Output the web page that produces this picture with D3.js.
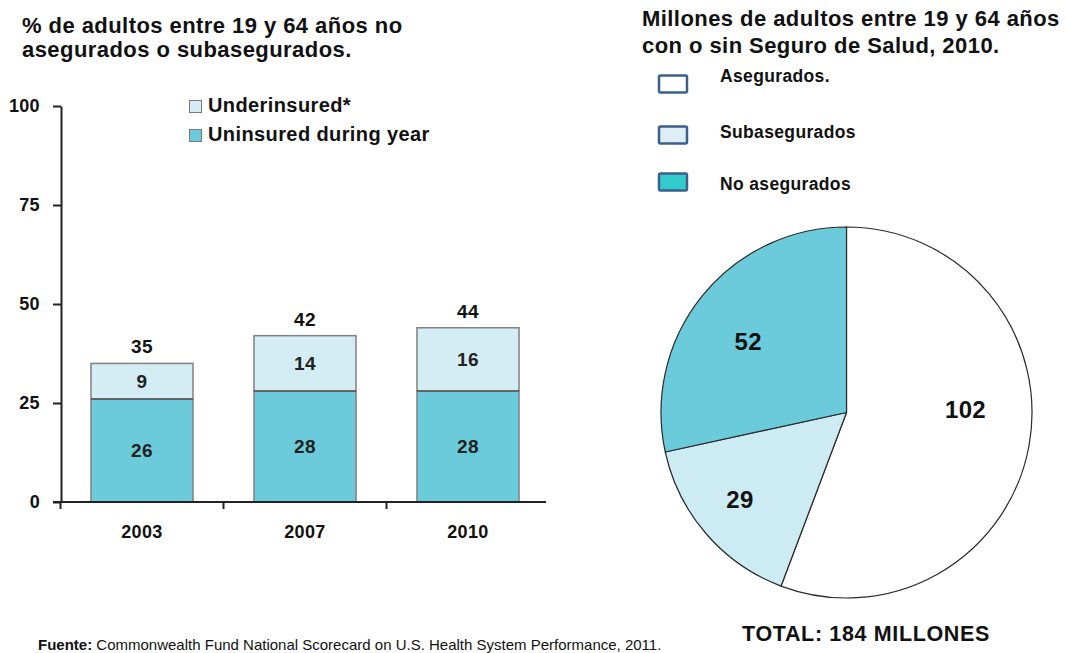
<!DOCTYPE html>
<html>
<head>
<meta charset="utf-8">
<script src="https://cdn.jsdelivr.net/npm/d3@7"></script>
<style>
  body { margin: 0; background: #ffffff; }
  svg text {
    font-family: "Liberation Sans", Arial, Helvetica, sans-serif;
    font-weight: bold;
    fill: #111111;
    letter-spacing: 0.02em;
  }
</style>
</head>
<body>
<svg id="chart" width="1066" height="653"></svg>
<script>
// ---- data: stacked bars (% of adults 19-64) ----
const years = ["2003", "2007", "2010"];
const uninsured = [26, 28, 28];
const underinsured = [9, 14, 16];
const totals = [35, 42, 44];
const yTicks = [0, 25, 50, 75, 100];
const barSeriesNames = ["Uninsured during year", "Underinsured*"];

// ---- data: pie (millions of adults, 2010) ----
const pieCategories = ["Asegurados.", "Subasegurados", "No asegurados"];
const pieValues = [102, 29, 52];
const pieTotalLabel = "TOTAL: 184 MILLONES";

// ---- text ----
const leftTitle = ["% de adultos entre 19 y 64 años no", "asegurados o subasegurados."];
const rightTitle = ["Millones de adultos entre 19 y 64 años", "con o sin Seguro de Salud, 2010."];
const sourceLabel = "Fuente:";
const sourceText = " Commonwealth Fund National Scorecard on U.S. Health System Performance, 2011.";

// ---- styles ----
const barColors = { uninsured: "#6ccbdb", underinsured: "#d4edf4" };
const pieFill = { "Asegurados.": "#ffffff", "Subasegurados": "#cdebf2", "No asegurados": "#6ccbdb" };
const pieLegendFill = { "Asegurados.": "#ffffff", "Subasegurados": "#ddeef5", "No asegurados": "#33cccc" };

const svg = d3.select("#chart");

// ================= Left: stacked bar chart =================
svg.append("g").selectAll("text").data(leftTitle).join("text")
  .attr("x", 22).attr("y", (d, i) => 33 + i * 24)
  .style("font-size", "22px")
  .text(d => d);

const x = d3.scaleBand().domain(years).range([60.5, 549.5])
  .paddingInner(0.374).paddingOuter(0.187);
const y = d3.scaleLinear().domain([0, 100]).range([502, 106]);

const rows = years.map((yr, i) => ({ year: yr, uninsured: uninsured[i], underinsured: underinsured[i] }));
const stack = d3.stack().keys(["uninsured", "underinsured"]);
const stacked = stack(rows);

const barsG = svg.append("g");
stacked.forEach(layer => {
  barsG.append("g").selectAll("rect").data(layer).join("rect")
    .attr("x", d => x(d.data.year))
    .attr("y", d => y(d[1]))
    .attr("width", x.bandwidth())
    .attr("height", d => y(d[0]) - y(d[1]))
    .attr("fill", barColors[layer.key])
    .attr("stroke", "#808080")
    .attr("stroke-width", 1.5);
});
// segment boundary lines
barsG.append("g").selectAll("line").data(rows).join("line")
  .attr("x1", d => x(d.year)).attr("x2", d => x(d.year) + x.bandwidth())
  .attr("y1", d => y(d.uninsured)).attr("y2", d => y(d.uninsured))
  .attr("stroke", "#555555").attr("stroke-width", 1.5);

// segment value labels
stacked.forEach(layer => {
  barsG.append("g").selectAll("text").data(layer).join("text")
    .attr("x", d => x(d.data.year) + x.bandwidth() / 2)
    .attr("y", d => (y(d[0]) + y(d[1])) / 2)
    .attr("dy", "0.36em")
    .attr("text-anchor", "middle")
    .style("font-size", "19px")
    .style("fill", "#222")
    .text(d => d.data[layer.key]);
});
// totals above bars
barsG.append("g").selectAll("text").data(years).join("text")
  .attr("x", d => x(d) + x.bandwidth() / 2)
  .attr("y", (d, i) => y(totals[i]) - 17)
  .attr("dy", "0.36em")
  .attr("text-anchor", "middle")
  .style("font-size", "19px")
  .text((d, i) => totals[i]);

// y axis
const yAxis = svg.append("g").attr("transform", "translate(61,0)")
  .call(d3.axisLeft(y).tickValues(yTicks).tickSize(8).tickSizeOuter(0).tickPadding(13));
yAxis.select(".domain").attr("stroke", "#222").attr("stroke-width", 2);
yAxis.selectAll(".tick line").attr("stroke", "#222").attr("stroke-width", 2);
yAxis.selectAll(".tick text")
  .style("font-family", "'Liberation Sans', Arial, sans-serif")
  .style("font-weight", "bold").style("font-size", "18px").style("fill", "#111");

// x axis
const xAxis = svg.append("g");
xAxis.append("line").attr("x1", 53).attr("x2", 546)
  .attr("y1", y(0)).attr("y2", y(0)).attr("stroke", "#222").attr("stroke-width", 2);
xAxis.selectAll("line.tick").data(years).join("line").attr("class", "tick")
  .attr("x1", d => x(d) - x.step() * x.paddingInner() / 2)
  .attr("x2", d => x(d) - x.step() * x.paddingInner() / 2)
  .attr("y1", y(0)).attr("y2", y(0) + 7)
  .attr("stroke", "#222").attr("stroke-width", 2);
xAxis.selectAll("text").data(years).join("text")
  .attr("x", d => x(d) + x.bandwidth() / 2)
  .attr("y", 538)
  .attr("text-anchor", "middle")
  .style("font-size", "18px")
  .text(d => d);

// bar legend (top item = upper segment)
const barLegend = svg.append("g");
const barLegendItems = [
  { name: barSeriesNames[1], fill: barColors.underinsured },
  { name: barSeriesNames[0], fill: barColors.uninsured }
];
barLegend.selectAll("rect").data(barLegendItems).join("rect")
  .attr("x", 189.5).attr("y", (d, i) => 100.5 + i * 29)
  .attr("width", 12).attr("height", 12)
  .attr("fill", d => d.fill).attr("stroke", "#7a7a7a").attr("stroke-width", 1);
barLegend.selectAll("text").data(barLegendItems).join("text")
  .attr("x", 208).attr("y", (d, i) => 112 + i * 29)
  .style("font-size", "20px")
  .text(d => d.name);

// ================= Right: pie chart =================
svg.append("g").selectAll("text").data(rightTitle).join("text")
  .attr("x", 642).attr("y", (d, i) => 26 + i * 27)
  .style("font-size", "22px")
  .text(d => d);

// pie legend
const pieLegend = svg.append("g");
const legendY = [75.5, 126.5, 173.5];
pieLegend.selectAll("rect").data(pieCategories).join("rect")
  .attr("x", 659).attr("y", (d, i) => legendY[i])
  .attr("width", 28).attr("height", 17)
  .attr("rx", 1.5)
  .attr("fill", d => pieLegendFill[d])
  .attr("stroke", "#3d5f8c").attr("stroke-width", 2.5);
pieLegend.selectAll("text").data(pieCategories).join("text")
  .attr("x", 720).attr("y", (d, i) => [82, 138, 190][i])
  .style("font-size", "17.5px")
  .text(d => d);

const cx = 846.5, cy = 412.5, R = 185.5;
const pie = d3.pie().sort(null).value(d => d.value);
const pieData = pie(pieCategories.map((c, i) => ({ name: c, value: pieValues[i] })));
const arc = d3.arc().innerRadius(0).outerRadius(R);
const labelArc = d3.arc().innerRadius(125).outerRadius(125);
// small per-slice nudges for label placement
const labelNudge = { "Asegurados.": [-4, -26], "Subasegurados": [-12, 5], "No asegurados": [-1, 7] };

const pieG = svg.append("g").attr("transform", `translate(${cx},${cy})`);
pieG.selectAll("path").data(pieData).join("path")
  .attr("d", arc)
  .attr("fill", d => pieFill[d.data.name])
  .attr("stroke", "#2a2a2a").attr("stroke-width", 1.2)
  .attr("stroke-linejoin", "round");
pieG.selectAll("text").data(pieData).join("text")
  .attr("x", d => labelArc.centroid(d)[0] + labelNudge[d.data.name][0])
  .attr("y", d => labelArc.centroid(d)[1] + labelNudge[d.data.name][1])
  .attr("dy", "0.36em")
  .attr("text-anchor", "middle")
  .style("font-size", "24px").style("letter-spacing", "0.01em")
  .text(d => d.data.value);

svg.append("text")
  .attr("x", 866).attr("y", 641)
  .attr("text-anchor", "middle")
  .style("font-size", "21.5px").style("letter-spacing", "0.03em")
  .text(pieTotalLabel);

// ================= Source note =================
const src = svg.append("text").attr("x", 38).attr("y", 650)
  .style("font-size", "15px").style("letter-spacing", "0");
src.append("tspan").text(sourceLabel);
src.append("tspan").style("font-weight", "normal").text(sourceText);
</script>
</body>
</html>
